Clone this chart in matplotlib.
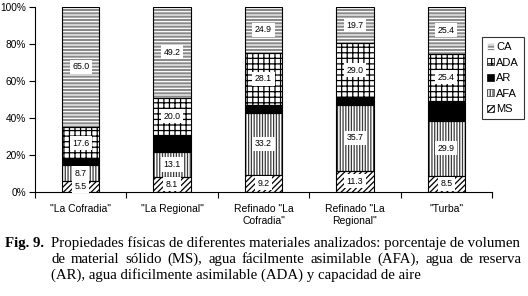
import matplotlib
matplotlib.use("Agg")
import matplotlib.pyplot as plt
from matplotlib.patches import Patch
import numpy as np

# data (percent of volume)
materials = ['"La Cofradia"', '"La Regional"', 'Refinado "La\nCofradia"',
             'Refinado "La\nRegional"', '"Turba"']
components = ["MS", "AFA", "AR", "ADA", "CA"]
ms = [5.5, 8.1, 9.2, 11.3, 8.5]
afa = [8.7, 13.1, 33.2, 35.7, 29.9]
ar = [3.2, 9.6, 4.6, 4.3, 10.8]
ada = [17.6, 20.0, 28.1, 29.0, 25.4]
ca = [65.0, 49.2, 24.9, 19.7, 25.4]
series = [ms, afa, ar, ada, ca]
show_label = [True, True, False, True, True]

caption = [
    "Propiedades físicas de diferentes materiales analizados: porcentaje de volumen",
    "de material sólido (MS), agua fácilmente asimilable (AFA), agua de reserva",
    "(AR), agua dificilmente asimilable (ADA) y capacidad de aire",
]

# pattern per component: (facecolor, hatch, hatch colour)
styles = {
    "MS": ("white", "//////", "black"),
    "AFA": ("white", "||||||", "#3a3a3a"),
    "AR": ("black", None, "black"),
    "ADA": ("white", "+++", "black"),
    "CA": ("#8a8a8a", "-----", "white"),
}

plt.rcParams["font.family"] = ["Liberation Sans", "DejaVu Sans"]
plt.rcParams["hatch.linewidth"] = 0.9

W, H = 528, 296
fig = plt.figure(figsize=(W / 100, H / 100), dpi=100)
ax = fig.add_axes([35 / W, 1 - 191.5 / H, (492 - 35) / W, (191.5 - 7) / H])

x = np.arange(len(materials))
width = 0.41
bottom = np.zeros(len(materials))
for name, vals, lab in zip(components, series, show_label):
    fc, hatch, hc = styles[name]
    vals = np.array(vals)
    ax.bar(x, vals, width, bottom=bottom, color=fc, hatch=hatch,
           edgecolor=hc, linewidth=0, zorder=2)
    ax.bar(x, vals, width, bottom=bottom, fill=False, edgecolor="black",
           linewidth=0.8, zorder=3)
    if lab:
        for xi, b, v in zip(x, bottom, vals):
            ax.text(xi, b + v / 2, f"{v:.1f}", ha="center", va="center",
                    fontsize=6.3, zorder=4,
                    bbox=dict(facecolor="white", edgecolor="none", pad=1.8))
    bottom += vals

ax.set_xlim(-0.5, len(materials) - 0.5)
ax.set_ylim(0, 100)
ax.set_yticks(np.arange(0, 101, 20))
ax.set_yticklabels([f"{v}%" for v in range(0, 101, 20)])
ax.set_xticks(np.arange(-0.5, len(materials), 1.0))
ax.set_xticklabels([])
ax.set_xticks(x, minor=True)
ax.set_xticklabels(materials, minor=True)
ax.tick_params(axis="x", which="minor", length=0, pad=9, labelsize=7.5)
ax.tick_params(axis="x", which="major", length=4, width=0.8)
ax.tick_params(axis="y", length=4, width=0.8, labelsize=7.3, pad=2.5)
for s in ["top", "right"]:
    ax.spines[s].set_visible(False)
for s in ["left", "bottom"]:
    ax.spines[s].set_linewidth(0.8)

handles = []
for name in reversed(components):
    fc, hatch, hc = styles[name]
    handles.append(Patch(facecolor=fc, hatch=hatch, edgecolor=hc, linewidth=0.5,
                         label=name))
leg = fig.legend(handles=handles, loc="upper left",
                 bbox_to_anchor=(482 / W, 1 - 37 / H),
                 fontsize=8, frameon=True, fancybox=False, edgecolor="black",
                 handlelength=0.6, handleheight=0.6, handletextpad=0.2,
                 labelspacing=0.5, borderpad=0.45, borderaxespad=0)
leg.get_frame().set_linewidth(0.8)

# caption, set like the printed figure (first two lines run to the right margin)
serif = ["Liberation Serif", "DejaVu Serif"]
renderer = fig.canvas.get_renderer()
x0, x1 = 51, 522


def text_width(s, size):
    t = fig.text(0, 0, s, fontsize=size, family=serif)
    wd = t.get_window_extent(renderer).width
    t.remove()
    return wd


cap_size = 10.0
cap_size *= (x1 - x0) / text_width(caption[0], cap_size)

fig.text(5 / W, 1 - 247 / H, "Fig. 9.", fontsize=cap_size, fontweight="bold",
         family=serif, va="baseline", ha="left")
for i, line in enumerate(caption):
    y = 1 - (247 + 16 * i) / H
    if i != 1:
        fig.text(x0 / W, y, line, fontsize=cap_size, family=serif,
                 va="baseline", ha="left")
        continue
    # stretch the word gaps of the middle line
    words = line.split(" ")
    space = text_width("a a", cap_size) - text_width("aa", cap_size)
    widths = [text_width(w, cap_size) for w in words]
    gap = (x1 - x0 - sum(widths)) / (len(words) - 1)
    gap = max(gap, space)
    pos = x0
    for w, wd in zip(words, widths):
        fig.text(pos / W, y, w, fontsize=cap_size, family=serif,
                 va="baseline", ha="left")
        pos += wd + gap

fig.savefig("out.png", dpi=100)
